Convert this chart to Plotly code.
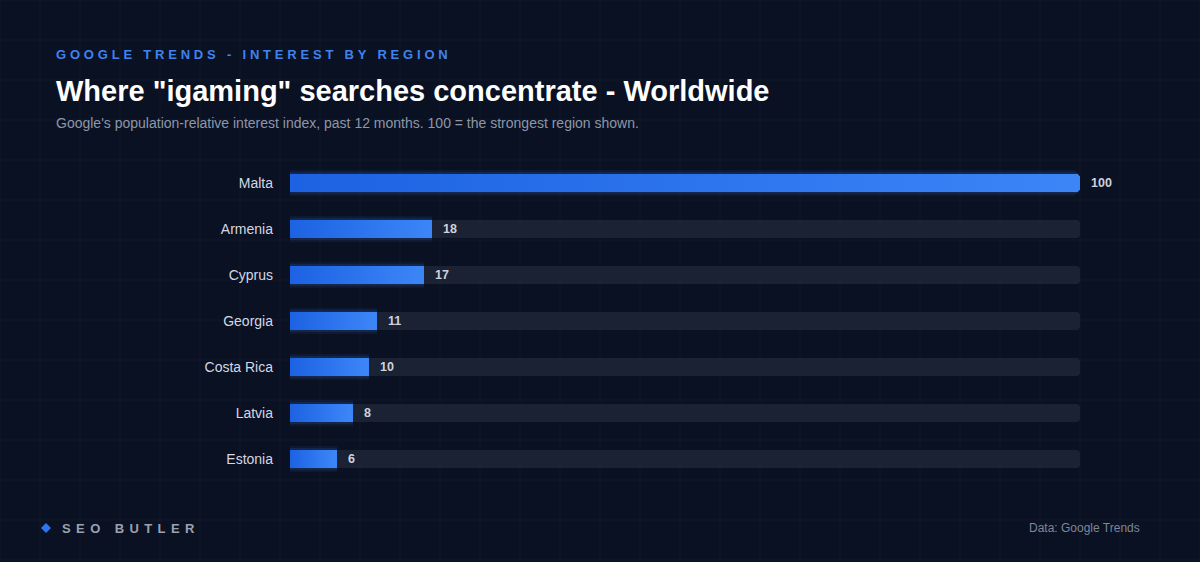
import plotly.graph_objects as go

regions = ["Malta", "Armenia", "Cyprus", "Georgia", "Costa Rica", "Latvia", "Estonia"]
interest = [100, 18, 17, 11, 10, 8, 6]
track_max = 100

overline = "GOOGLE TRENDS - INTEREST BY REGION"
title = 'Where "igaming" searches concentrate - Worldwide'
subtitle = "Google's population-relative interest index, past 12 months. 100 = the strongest region shown."
brand = "SEO BUTLER"
source = "Data: Google Trends"

W, H = 1200, 562
BG = "#0a1122"
FONT = "Liberation Sans, Arial, sans-serif"
C_LEFT, C_RIGHT = "#1c62e2", "#3b85f7"

ypos = list(range(len(regions)))
row_px = 46
bar_px = 18
top_px = 183 - row_px / 2
bot_px = top_px + row_px * len(regions)
plot_w_px = 790
half = bar_px / row_px / 2
radius_units = 4 * track_max / plot_w_px

fig = go.Figure()

# tracks
fig.add_trace(go.Bar(
    x=[track_max] * len(regions), y=ypos, orientation="h",
    marker=dict(color="#1b2233", cornerradius=4, line=dict(width=0)),
    width=bar_px / row_px, hoverinfo="skip", showlegend=False))
# soft glow
fig.add_trace(go.Bar(
    x=interest, y=ypos, orientation="h",
    marker=dict(color="rgba(59,130,246,0.08)", cornerradius=8, line=dict(width=0)),
    width=26 / row_px, hoverinfo="skip", showlegend=False))
fig.add_trace(go.Bar(
    x=interest, y=ypos, orientation="h",
    marker=dict(color="rgba(59,130,246,0.13)", cornerradius=6, line=dict(width=0)),
    width=22 / row_px, hoverinfo="skip", showlegend=False))
# bars (base colour = gradient end)
fig.add_trace(go.Bar(
    x=interest, y=ypos, orientation="h",
    marker=dict(color=C_RIGHT, cornerradius=4, line=dict(width=0)),
    width=bar_px / row_px, hoverinfo="skip", showlegend=False))
# horizontal gradient overlay on each bar
for v, yy in zip(interest, ypos):
    x_end = v - radius_units
    fig.add_trace(go.Scatter(
        x=[0, x_end, x_end, 0, 0],
        y=[yy - half, yy - half, yy + half, yy + half, yy - half],
        mode="none", fill="toself",
        fillgradient=dict(type="horizontal", colorscale=[[0, C_LEFT], [1, C_RIGHT]]),
        hoverinfo="skip", showlegend=False))

annotations = []
for v, yy in zip(interest, ypos):
    annotations.append(dict(
        x=v, y=yy, xref="x", yref="y", text=f"<b>{v}</b>", showarrow=False,
        xanchor="left", yanchor="middle", xshift=9,
        font=dict(family=FONT, size=12.5, color="#cdd3de")))

annotations += [
    dict(x=54 / W, y=1 - 55 / H, xref="paper", yref="paper", xanchor="left", yanchor="middle",
         text=f'<span style="letter-spacing:3.8px"><b>{overline}</b></span>', showarrow=False,
         font=dict(family=FONT, size=13, color="#3f83ee")),
    dict(x=54 / W, y=1 - 91 / H, xref="paper", yref="paper", xanchor="left", yanchor="middle",
         text=f"<b>{title}</b>", showarrow=False,
         font=dict(family=FONT, size=29, color="#ffffff")),
    dict(x=54 / W, y=1 - 123 / H, xref="paper", yref="paper", xanchor="left", yanchor="middle",
         text=subtitle, showarrow=False,
         font=dict(family=FONT, size=14, color="#8e97a8")),
    dict(x=60 / W, y=1 - 528 / H, xref="paper", yref="paper", xanchor="left", yanchor="middle",
         text=f'<span style="letter-spacing:5.4px"><b>{brand}</b></span>', showarrow=False,
         font=dict(family=FONT, size=13, color="#9aa1b0")),
    dict(x=1142 / W, y=1 - 528 / H, xref="paper", yref="paper", xanchor="right", yanchor="middle",
         text=source, showarrow=False,
         font=dict(family=FONT, size=12, color="#7e8698")),
]

shapes = []
# faint background grid
for gx in range(0, W + 1, 40):
    shapes.append(dict(type="line", xref="paper", yref="paper", x0=gx / W, x1=gx / W, y0=0, y1=1,
                       line=dict(color="rgba(120,140,190,0.06)", width=1), layer="below"))
for gy in range(0, H + 1, 40):
    shapes.append(dict(type="line", xref="paper", yref="paper", x0=0, x1=1, y0=1 - gy / H, y1=1 - gy / H,
                       line=dict(color="rgba(120,140,190,0.06)", width=1), layer="below"))
# brand diamond
cx, cy, r = 46, 528, 5
shapes.append(dict(type="path", xref="paper", yref="paper",
                   path=f"M {cx / W} {1 - (cy - r) / H} L {(cx + r) / W} {1 - cy / H} L {cx / W} {1 - (cy + r) / H} L {(cx - r) / W} {1 - cy / H} Z",
                   fillcolor="#2f74f0", line=dict(width=0)))

fig.update_layout(
    width=W, height=H, paper_bgcolor=BG, plot_bgcolor="rgba(0,0,0,0)",
    margin=dict(l=0, r=0, t=0, b=0), barmode="overlay", bargap=0,
    xaxis=dict(domain=[290 / W, (290 + plot_w_px) / W], range=[0, track_max], visible=False, fixedrange=True),
    yaxis=dict(domain=[1 - bot_px / H, 1 - top_px / H], range=[len(regions) - 0.5, -0.5],
               tickvals=ypos, ticktext=regions, showgrid=False, zeroline=False, showline=False,
               ticks="", ticklabelstandoff=16, automargin=False,
               tickfont=dict(family=FONT, size=14, color="#d3d8e2"), fixedrange=True),
    annotations=annotations, shapes=shapes, showlegend=False,
    font=dict(family=FONT),
)

fig.write_html(
    "out.html", config={"displayModeBar": False},
    post_script="document.body.style.margin='0';document.body.style.background='%s';document.body.style.overflow='hidden';" % BG,
)
